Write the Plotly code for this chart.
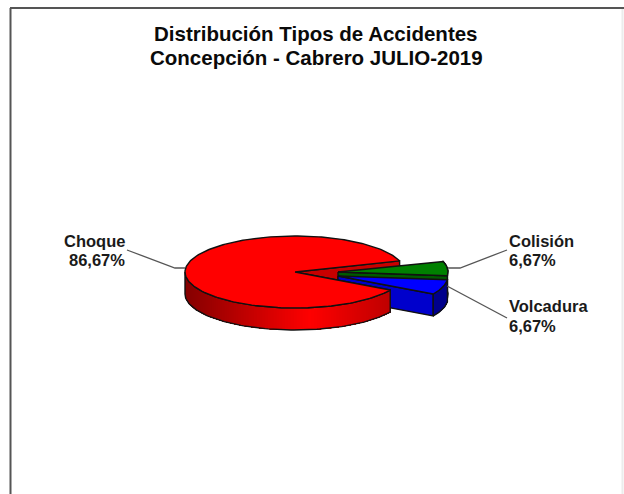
import numpy as np
import plotly.graph_objects as go

# --- data ---
categories = ["Choque", "Colisión", "Volcadura"]
values = [86.67, 6.67, 6.67]
colors = ["#ff0000", "#008000", "#0000ff"]
title_lines = ["Distribución Tipos de Accidentes", "Concepción - Cabrero JULIO-2019"]

# --- styling / geometry of the tilted pie (pixel-scaled axes) ---
W, H = 624, 494
CX, CY, RX, RY, DEPTH = 295, 272, 110, 36, 22
START = 18.0          # parametric degrees where the first slice's cut lies
OFFS = [(0, 0), (43, 0), (43, 4)]   # explosion of each slice
OUTLINE = "#111111"

fig = go.Figure()


def poly(xs, ys, fill, line=OUTLINE, width=1.4):
    fig.add_trace(go.Scatter(x=list(xs), y=list(ys), mode="lines", fill="toself",
                             fillcolor=fill, line=dict(color=line, width=width),
                             hoverinfo="skip", showlegend=False))


def pts(a_deg, ox, oy, drop=0):
    a = np.radians(a_deg)
    return CX + ox + RX * np.cos(a), CY + oy - RY * np.sin(a) + drop


def shade(rgb, f):
    return "rgb(%d,%d,%d)" % tuple(int(c * f) for c in rgb)


def side(a0, a1, ox, oy, rgb, fn):
    """Outer rim from angle a0 to a1: overlapping bands give a seamless gradient."""
    angs = np.linspace(a0, a1, max(int(abs(a1 - a0) / 1.5), 2) + 1)
    for p, q in zip(angs[:-1], angs[1:]):
        rest = np.linspace(p, a1, 40)
        xa, ya = pts(rest, ox, oy)
        c = shade(rgb, fn(pts((p + q) / 2, ox, oy)[0]))
        fig.add_trace(go.Scatter(
            x=np.r_[xa, xa[::-1], xa[0]], y=np.r_[ya, (ya + DEPTH)[::-1], ya[0]],
            mode="none", fill="toself", fillcolor=c, hoverinfo="skip", showlegend=False))
    xa, ya = pts(angs, ox, oy)
    fig.add_trace(go.Scatter(
        x=np.r_[xa, xa[::-1], xa[0]], y=np.r_[ya, (ya + DEPTH)[::-1], ya[0]],
        mode="lines", line=dict(color=OUTLINE, width=1.4), hoverinfo="skip", showlegend=False))


def top(a0, a1, ox, oy, fill):
    angs = np.linspace(a0, a1, 200)
    xa, ya = pts(angs, ox, oy)
    poly(np.r_[CX + ox, xa, CX + ox], np.r_[CY + oy, ya, CY + oy], fill)


def wall(a, ox, oy, fill):
    x, y = pts(a, ox, oy)
    cx, cy = CX + ox, CY + oy
    poly([cx, x, x, cx, cx], [cy, y, y + DEPTH, cy + DEPTH, cy], fill)


# slice angles, from the values
fr = np.array(values) / sum(values) * 360
red_a0, red_a1 = START, START + fr[0]
grn_a0, grn_a1 = START, START - fr[1]
blu_a0, blu_a1 = grn_a1, grn_a1 - fr[2]

RED, GRN, BLU = (255, 0, 0), (0, 128, 0), (0, 0, 255)

# back wall of the red slice
wall(red_a0, *OFFS[0], "#c80000")
# green slice
side(grn_a1, grn_a0, *OFFS[1], GRN, lambda x: 0.45)
wall(grn_a1, *OFFS[1], "#005a00")
top(grn_a0, grn_a1, *OFFS[1], colors[1])
# blue slice
wall(blu_a1, *OFFS[2], "#0000cc")
side(blu_a1, blu_a0, *OFFS[2], BLU, lambda x: 0.55)
top(blu_a0, blu_a1, *OFFS[2], colors[2])
# red slice: front wall and rim with gradient
wall(red_a1, *OFFS[0], "#cc0000")
side(180, 360 + blu_a1, *OFFS[0], RED,
     lambda x: 0.52 + 0.48 * np.clip((x - 185) / 125, 0, 1) if x < 310
     else 1 - 0.25 * np.clip((x - 310) / 80, 0, 1))
top(red_a0, red_a1, *OFFS[0], colors[0])

# leader lines
leaders = [([185, 175, 127], [268, 268, 250]),
           ([448, 460, 507], [268, 268, 250]),
           ([447, 507], [286, 318])]
for lx, ly in leaders:
    fig.add_trace(go.Scatter(x=lx, y=ly, mode="lines", line=dict(color="#555555", width=1.3),
                             hoverinfo="skip", showlegend=False))


def pct(v):
    return f"{v:.2f}".replace(".", ",") + "%"


FONT = "Liberation Sans"
label_pos = [(127, 241, 259.5, "right"), (507, 241, 259.5, "left"), (507, 306, 326, "left")]
annots = []
for name, v, (x, y1, y2, al) in zip(categories, values, label_pos):
    for txt, y in ((name, y1), (pct(v), y2)):
        annots.append(dict(x=x, y=y, xref="x", yref="y", text=f"<b>{txt}</b>", showarrow=False,
                           xanchor=al, yanchor="middle", align=al,
                           font=dict(family=FONT, size=16.5, color="#1a1a1a")))
for txt, y in zip(title_lines, (33, 57)):
    annots.append(dict(x=316, y=y, xref="x", yref="y", text=f"<b>{txt}</b>",
                       showarrow=False, xanchor="center", yanchor="middle", align="center",
                       font=dict(family=FONT, size=20.5, color="#0a0a0a")))

shapes = [dict(type="line", xref="x", yref="y", x0=10.5, x1=10.5, y0=8, y1=494,
               line=dict(color="#555555", width=2)),
          dict(type="line", xref="x", yref="y", x0=10, x1=624, y0=8, y1=8,
               line=dict(color="#555555", width=2)),
          dict(type="line", xref="x", yref="y", x0=622.5, x1=622.5, y0=9, y1=494,
               line=dict(color="#ececec", width=2))]

fig.update_layout(
    width=W, height=H, margin=dict(l=0, r=0, t=0, b=0), autosize=False,
    paper_bgcolor="white", plot_bgcolor="white", showlegend=False,
    xaxis=dict(range=[0, W], visible=False, fixedrange=True),
    yaxis=dict(range=[H, 0], visible=False, fixedrange=True),
    annotations=annots, shapes=shapes,
)
fig.write_html("out.html", config={"displayModeBar": False},
               post_script="document.body.style.margin='0';")
